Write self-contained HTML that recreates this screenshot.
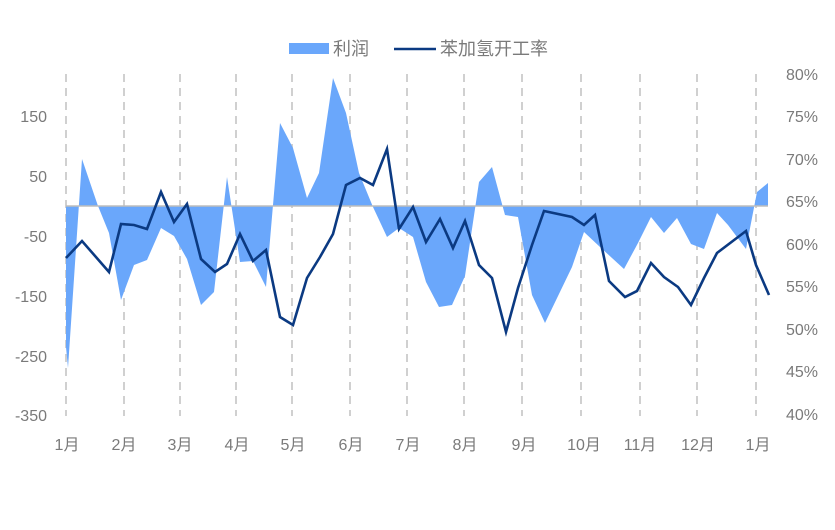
<!DOCTYPE html>
<html><head><meta charset="utf-8"><style>
body{margin:0;background:#fff}
svg text{font-family:"Liberation Sans","Noto Sans CJK SC",sans-serif;fill:#7a7a7a}
</style></head><body>
<svg width="835" height="525" viewBox="0 0 835 525" xmlns="http://www.w3.org/2000/svg">
<g stroke="#d0d0d0" stroke-width="2" stroke-dasharray="8,6">
<line x1="66" y1="74" x2="66" y2="416"/><line x1="124" y1="74" x2="124" y2="416"/><line x1="180" y1="74" x2="180" y2="416"/><line x1="236" y1="74" x2="236" y2="416"/><line x1="292" y1="74" x2="292" y2="416"/><line x1="350" y1="74" x2="350" y2="416"/><line x1="407" y1="74" x2="407" y2="416"/><line x1="464" y1="74" x2="464" y2="416"/><line x1="522" y1="74" x2="522" y2="416"/><line x1="581" y1="74" x2="581" y2="416"/><line x1="640" y1="74" x2="640" y2="416"/><line x1="697" y1="74" x2="697" y2="416"/><line x1="756" y1="74" x2="756" y2="416"/>
</g>
<polygon fill="#6aa7fb" points="66,206 66,347 68,368 82,159 98,206 109,233 121,300 134,265 147,260 161,228 174,236 187,259 201,305 214,292 227,177 240,262 253,261 266,287 280,123 293,148 307,198 319,173 333,78 346,113 359,173 373,207 387,237 399,228 413,237 426,282 439,307 452,305 465,276 479,182 492,167 505,215 518,217 532,295 545,323 572,267 584,232 600,247 624,269 638,243 651,217 664,233 677,218 691,244 704,249 717,213 728,225 746,249 757,192 768,183 768,206"/>
<line x1="66" y1="206" x2="768" y2="206" stroke="#bdbdbd" stroke-width="1.5"/>
<polyline fill="none" stroke="#0b3a82" stroke-width="2.6" stroke-linejoin="miter" points="66,258 82,241 109,272 121,224 134,225 147,229 161,192 174,222 187,204 201,259 215,272 227,264 240,234 253,261 266,250 280,317 293,325 307,278 320,257 333,234 346,185 360,178 373,185 387,149 399,229 413,207 426,242 440,219 453,248 465,221 479,265 492,278 506,332 518,288 532,245 544,211 572,217 584,225 595,215 609,281 625,297 637,291 651,263 664,277 678,287 691,305 704,278 717,253 746,231 756,265 769,295"/>
<g font-size="16" text-anchor="end">
<text x="47" y="122">150</text><text x="47" y="182">50</text><text x="47" y="242">-50</text><text x="47" y="302">-150</text><text x="47" y="362">-250</text><text x="47" y="421">-350</text>
</g>
<g font-size="16" text-anchor="start">
<text x="786" y="80">80%</text><text x="786" y="122">75%</text><text x="786" y="165">70%</text><text x="786" y="207">65%</text><text x="786" y="250">60%</text><text x="786" y="292">55%</text><text x="786" y="335">50%</text><text x="786" y="377">45%</text><text x="786" y="420">40%</text>
</g>
<g font-size="16" text-anchor="middle">
<text x="67" y="450">1月</text><text x="124" y="450">2月</text><text x="180" y="450">3月</text><text x="237" y="450">4月</text><text x="293" y="450">5月</text><text x="351" y="450">6月</text><text x="408" y="450">7月</text><text x="465" y="450">8月</text><text x="524" y="450">9月</text><text x="584" y="450">10月</text><text x="640" y="450">11月</text><text x="698" y="450">12月</text><text x="758" y="450">1月</text>
</g>
<rect x="289" y="43" width="40" height="11" fill="#6aa7fb"/>
<text x="333" y="55" font-size="18">利润</text>
<line x1="394" y1="49" x2="436" y2="49" stroke="#0b3a82" stroke-width="2.6"/>
<text x="440" y="55" font-size="18">苯加氢开工率</text>
</svg>
</body></html>
